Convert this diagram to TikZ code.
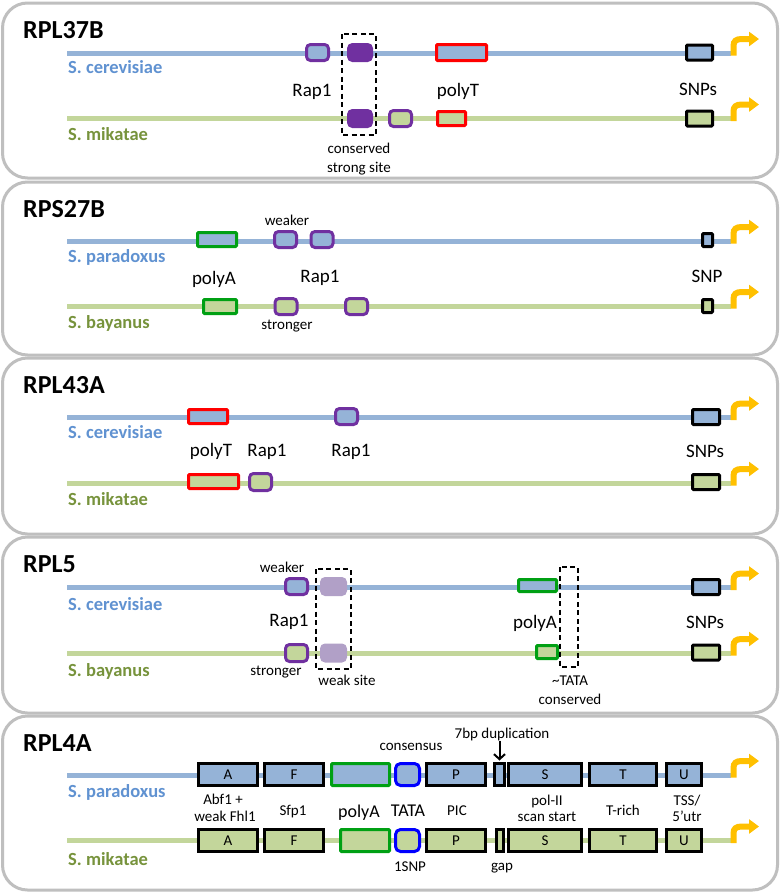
\documentclass[tikz,border=0pt]{standalone}
\usepackage{fontspec}
\setmainfont{Carlito}
\usetikzlibrary{arrows.meta}

\definecolor{dnablue}{RGB}{149,179,215}
\definecolor{dnagreen}{RGB}{195,214,155}
\definecolor{txtblue}{RGB}{96,146,209}
\definecolor{txtgreen}{RGB}{119,147,60}
\definecolor{rapcol}{RGB}{112,48,160}
\definecolor{weakcol}{RGB}{177,160,199}
\definecolor{polyAcol}{RGB}{0,160,20}
\definecolor{tatacol}{RGB}{0,0,255}
\definecolor{tsscol}{RGB}{255,192,0}
\definecolor{framecol}{RGB}{191,191,191}

\tikzset{
  panel/.style={draw=framecol, line width=3pt, rounded corners=25pt, fill=white},
  bluedna/.style={dnablue, line width=5pt},
  greendna/.style={dnagreen, line width=5pt},
  tss/.style={tsscol, line width=6pt, -{Triangle[length=10pt,width=14pt]}},
  site/.style={line width=3pt, inner sep=0pt, outer sep=0pt, minimum height=16pt},
  onb/.style={fill=dnablue},
  ong/.style={fill=dnagreen},
  rap/.style={site, draw=rapcol, rounded corners=4pt, minimum width=22pt},
  strong/.style={site, draw=rapcol, fill=rapcol, rounded corners=4pt, minimum width=23pt},
  weaksite/.style={site, fill=weakcol, rounded corners=5pt, minimum width=27pt, minimum height=19pt},
  polyT/.style={site, draw=red, rounded corners=1pt},
  polyA/.style={site, draw=polyAcol, rounded corners=1pt},
  snp/.style={site, draw=black, rounded corners=1pt, minimum width=26pt, minimum height=15pt},
  seg/.style={site, draw=black, minimum height=22pt, minimum width=59pt, font=\fontsize{15}{17}\selectfont},
  tata/.style={site, draw=tatacol, rounded corners=5pt, minimum width=24pt, minimum height=22pt},
  cons/.style={black, line width=1.3pt, dash pattern=on 5pt off 3.5pt},
  dupar/.style={-{Straight Barb[length=5pt,width=11pt]}, line width=2pt, shorten >=3pt},
  title/.style={anchor=base west, inner sep=0pt, font=\bfseries\fontsize{26}{30}\selectfont},
  spb/.style={anchor=base west, inner sep=0pt, text=txtblue, font=\bfseries\fontsize{18.5}{22}\selectfont},
  spg/.style={anchor=base west, inner sep=0pt, text=txtgreen, font=\bfseries\fontsize{18.5}{22}\selectfont},
  lab/.style={anchor=base, inner sep=0pt, font=\fontsize{19}{22}\selectfont},
  small/.style={anchor=base, inner sep=0pt, font=\fontsize{15}{17}\selectfont}
}

\begin{document}
\begin{tikzpicture}[x=1pt, y=-1pt]
    \useasboundingbox (0,0) rectangle (780,892);
    \fill[white] (0,0) rectangle (780,892);

    % Panel frames
    \foreach \t/\b in {3/178, 182/355, 358/534, 537/713, 716/890} {
        \draw[panel] (2.5,\t) rectangle (777.5,\b);
    }

    % DNA lines with TSS arrows
    \foreach \yb/\yg in {53/118.5, 241/306, 417.5/483, 587.5/653, 775/840.5} {
        \draw[bluedna] (67,\yb) -- (731,\yb);
        \draw[greendna] (67,\yg) -- (731,\yg);
        \foreach \y in {\yb,\yg} {
            \draw[tss] (733.5,\y+2.5) -- (733.5,\y-7) .. controls (733.5,\y-12) and (736,\y-14) .. (742,\y-14) -- (759,\y-14);
        }
    }

    % RPL37B
    \node[title] (t37) at (23,38) {RPL37B};
    \node[spb] (s37c) at (68,73) {S. cerevisiae};
    \node[spg] (s37m) at (68,140) {S. mikatae};
    \node[rap, onb] (c37rap) at (317.5,52.5) {};
    \node[strong] (c37str) at (360,52.5) {};
    \node[polyT, onb, minimum width=50pt] (c37polyT) at (461.5,52.5) {};
    \node[snp, onb] (c37snp) at (699.5,52.5) {};
    \node[strong] (m37str) at (360,118.5) {};
    \node[rap, ong] (m37rap) at (400.5,118.5) {};
    \node[polyT, ong, minimum width=28pt, minimum height=14pt] (m37polyT) at (451.5,118.5) {};
    \node[snp, ong] (m37snp) at (699.5,118.5) {};
    \draw[cons] (342,34) rectangle (376,135);
    \node[lab] (l37rap) at (312,96) {Rap1};
    \node[lab] (l37polyT) at (458,96) {polyT};
    \node[lab] (l37snp) at (698,95) {SNPs};
    \node[small] (l37cons) at (359,153) {conserved};
    \node[small] (l37str) at (359,172) {strong site};

    % RPS27B
    \node[title] (t27) at (23,217) {RPS27B};
    \node[spb] (s27p) at (68,262) {S. paradoxus};
    \node[spg] (s27b) at (68,328) {S. bayanus};
    \node[polyA, onb, minimum width=39pt, minimum height=14pt] (p27polyA) at (217,239.5) {};
    \node[rap, onb] (p27rapA) at (285.5,239.5) {};
    \node[rap, onb] (p27rapB) at (322,239.5) {};
    \node[snp, onb, minimum width=10pt, minimum height=13pt] (p27snp) at (707.5,240) {};
    \node[polyA, ong, minimum width=33pt, minimum height=14pt] (b27polyA) at (220,306.5) {};
    \node[rap, ong] (b27rapA) at (286,306.5) {};
    \node[rap, ong] (b27rapB) at (356.5,306.5) {};
    \node[snp, ong, minimum width=10pt, minimum height=13pt] (b27snp) at (707.5,306) {};
    \node[small] (l27weak) at (287,225) {weaker};
    \node[small] (l27strong) at (287,329) {stronger};
    \node[lab] (l27polyA) at (214,284) {polyA};
    \node[lab] (l27rap) at (320,282) {Rap1};
    \node[lab] (l27snp) at (707,282) {SNP};

    % RPL43A
    \node[title] (t43) at (23,393) {RPL43A};
    \node[spb] (s43c) at (68,438) {S. cerevisiae};
    \node[spg] (s43m) at (68,505) {S. mikatae};
    \node[polyT, onb, minimum width=39pt, minimum height=14pt] (c43polyT) at (208,416.5) {};
    \node[rap, onb] (c43rap) at (346.5,416.5) {};
    \node[snp, onb, minimum width=27pt] (c43snp) at (706,417) {};
    \node[polyT, ong, minimum width=50pt, minimum height=14pt] (m43polyT) at (213.5,481.5) {};
    \node[rap, ong, minimum height=17pt] (m43rap) at (260.5,482) {};
    \node[snp, ong, minimum width=27pt] (m43snp) at (706,482) {};
    \node[lab] (l43polyT) at (211,456) {polyT};
    \node[lab] (l43rapA) at (267,456) {Rap1};
    \node[lab] (l43rapB) at (351,456) {Rap1};
    \node[lab] (l43snp) at (705,457) {SNPs};

    % RPL5
    \node[title] (t5) at (23,572) {RPL5};
    \node[spb] (s5c) at (68,610) {S. cerevisiae};
    \node[spg] (s5b) at (68,676) {S. bayanus};
    \node[rap, onb] (c5rap) at (296.5,586.5) {};
    \node[weaksite] (c5weak) at (333.5,586.5) {};
    \node[polyA, onb, minimum width=38pt, minimum height=12pt] (c5polyA) at (537.5,585.5) {};
    \node[snp, onb, minimum width=27pt] (c5snp) at (706,587) {};
    \node[rap, ong, minimum height=17pt] (b5rap) at (296.5,653) {};
    \node[weaksite] (b5weak) at (333.5,653) {};
    \node[polyA, ong, minimum width=21pt, minimum height=13pt] (b5polyA) at (547,652) {};
    \node[snp, ong, minimum width=27pt] (b5snp) at (706,652.5) {};
    \draw[cons] (316,569) rectangle (351,669);
    \draw[cons] (560,567) rectangle (578,667);
    \node[small] (l5weak) at (282,572) {weaker};
    \node[lab] (l5rap) at (289,626) {Rap1};
    \node[small] (l5strong) at (276,675) {stronger};
    \node[small] (l5site) at (347,685) {weak site};
    \node[lab] (l5polyA) at (535,628) {polyA};
    \node[lab] (l5snp) at (705,628) {SNPs};
    \node[small] (l5tata) at (570,685) {\textasciitilde TATA};
    \node[small] (l5cons) at (570,704) {conserved};

    % RPL4A
    \node[title] (t4) at (23,751) {RPL4A};
    \node[spb] (s4p) at (68,797) {S. paradoxus};
    \node[spg] (s4m) at (68,865) {S. mikatae};
    \node[seg, onb] (pA) at (228,774.5) {A};
    \node[seg, onb] (pF) at (294,774.5) {F};
    \node[polyA, onb, minimum width=58pt, minimum height=22pt] (ppolyA) at (360.5,774.5) {};
    \node[tata, onb] (ptata) at (407.5,774.5) {};
    \node[seg, onb] (pP) at (456,774.5) {P};
    \node[seg, onb, minimum width=10pt] (pdup) at (499.5,774.5) {};
    \node[seg, onb, minimum width=73pt] (pS) at (545,774.5) {S};
    \node[seg, onb, minimum width=67pt] (pT) at (623,774.5) {T};
    \node[seg, onb, minimum width=35pt] (pU) at (684,774.5) {U};
    \node[seg, ong] (mA) at (228,840.5) {A};
    \node[seg, ong] (mF) at (294,840.5) {F};
    \node[polyA, ong, minimum width=49pt, minimum height=22pt] (mpolyA) at (365,840.5) {};
    \node[tata, ong] (mtata) at (407.5,840.5) {};
    \node[seg, ong] (mP) at (456,840.5) {P};
    \node[seg, ong, minimum width=7pt] (mgap) at (500,840.5) {};
    \node[seg, ong, minimum width=73pt] (mS) at (545,840.5) {S};
    \node[seg, ong, minimum width=67pt] (mT) at (623,840.5) {T};
    \node[seg, ong, minimum width=35pt] (mU) at (684,840.5) {U};
    \node[small] (l4abf) at (223,804) {Abf1 +};
    \node[small] (l4fhl) at (225,821.7) {weak Fhl1};
    \node[small] (l4sfp) at (293,815) {Sfp1};
    \node[lab, font=\fontsize{18}{21}\selectfont] (l4polyA) at (359,817) {polyA};
    \node[lab, font=\fontsize{18}{21}\selectfont] (l4tata) at (408,816) {TATA};
    \node[small] (l4pic) at (457,815) {PIC};
    \node[small] (l4pol) at (547,805) {pol-II};
    \node[small] (l4scan) at (547,821.7) {scan start};
    \node[small] (l4trich) at (623,815) {T-rich};
    \node[small] (l4tss) at (687,805) {TSS/};
    \node[small] (l4utr) at (687,821) {5’utr};
    \node[small] (l4cons) at (411,750.7) {consensus};
    \node[small] (l4dup) at (502,738) {7bp duplication};
    \node[small] (l4snp) at (410,871.7) {1SNP};
    \node[small] (l4gap) at (502,870) {gap};
    \draw[dupar] (pdup.north |- l4dup.south) -- (pdup.north);

\end{tikzpicture}
\end{document}
